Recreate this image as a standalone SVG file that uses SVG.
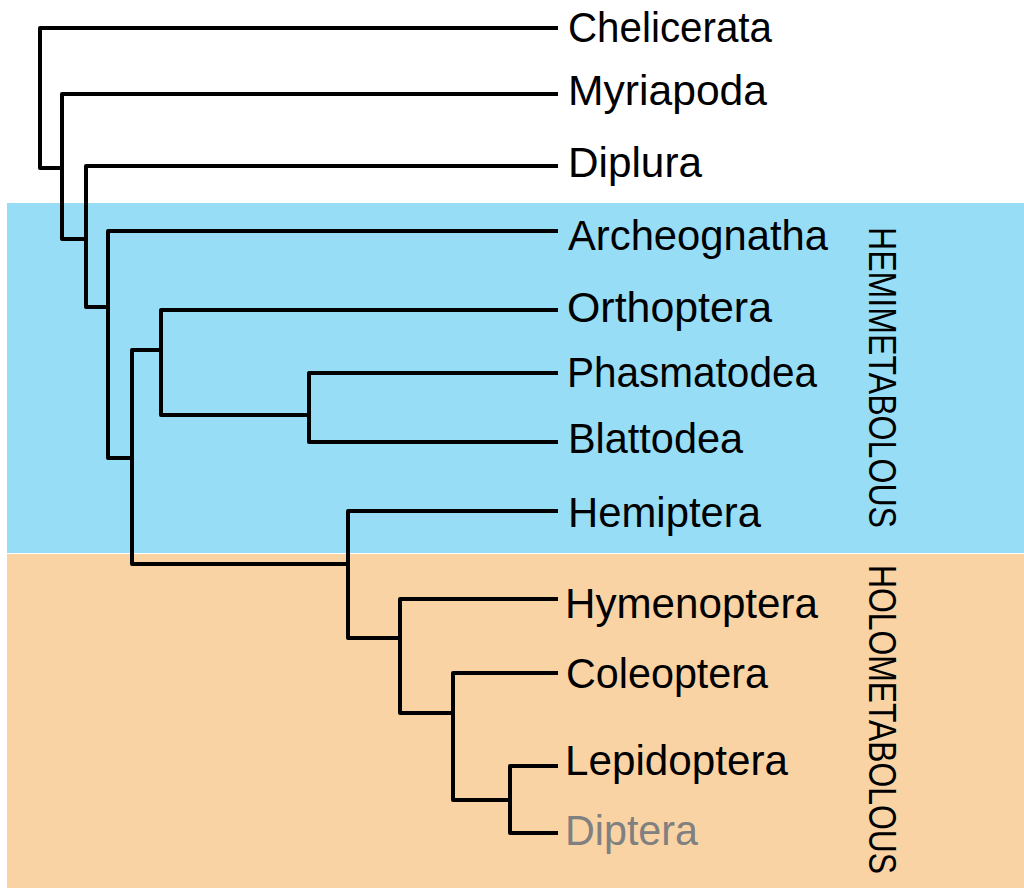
<svg xmlns="http://www.w3.org/2000/svg" width="1024" height="888" viewBox="0 0 1024 888">
<style>
.bg{stroke:none}
.br{fill:none;stroke:#000;stroke-width:4;stroke-linejoin:round;stroke-linecap:butt}
.lbl{font-family:"Liberation Sans",Arial,sans-serif;font-size:42px;fill:#000}
.grp{font-family:"Liberation Sans",Arial,sans-serif;font-size:38px;fill:#000}
</style>
<rect width="1024" height="888" fill="#ffffff"/>
<rect class="bg" x="7" y="203" width="1017" height="350" fill="#97ddf6"/>
<rect class="bg" x="7" y="554" width="1017" height="334" fill="#fad3a5"/>
<g id="connectors">
<path class="br" d="M558,28 H40 V168 H60"/>
<path class="br" d="M558,94 H62 V239 H84"/>
<path class="br" d="M558,166 H86 V307 H106"/>
<path class="br" d="M558,231 H108 V458 H130"/>
<path class="br" d="M346,564 H132 V350 H159"/>
<path class="br" d="M558,310 H161 V415 H307"/>
<path class="br" d="M558,373 H309 V442 H558"/>
<path class="br" d="M558,511 H348 V638 H398"/>
<path class="br" d="M558,599 H400 V713 H451"/>
<path class="br" d="M558,673 H453 V800 H508"/>
<path class="br" d="M558,766 H510 V833 H558"/>
</g>
<g id="chelicerata"><text class="lbl" x="568" y="42" textLength="204" lengthAdjust="spacingAndGlyphs">Chelicerata</text></g>
<g id="myriapoda"><text class="lbl" x="568" y="105" textLength="199" lengthAdjust="spacingAndGlyphs">Myriapoda</text></g>
<g id="diplura"><text class="lbl" x="568" y="177" textLength="134" lengthAdjust="spacingAndGlyphs">Diplura</text></g>
<g id="archeognatha"><text class="lbl" x="568" y="250" textLength="260" lengthAdjust="spacingAndGlyphs">Archeognatha</text></g>
<g id="orthoptera"><text class="lbl" x="567" y="322" textLength="205" lengthAdjust="spacingAndGlyphs">Orthoptera</text></g>
<g id="phasmatodea"><text class="lbl" x="567" y="387" textLength="250" lengthAdjust="spacingAndGlyphs">Phasmatodea</text></g>
<g id="blattodea"><text class="lbl" x="568" y="453" textLength="175" lengthAdjust="spacingAndGlyphs">Blattodea</text></g>
<g id="hemiptera"><text class="lbl" x="568" y="527" textLength="193" lengthAdjust="spacingAndGlyphs">Hemiptera</text></g>
<g id="hymenoptera"><text class="lbl" x="565" y="618" textLength="253" lengthAdjust="spacingAndGlyphs">Hymenoptera</text></g>
<g id="coleoptera"><text class="lbl" x="566" y="688" textLength="202" lengthAdjust="spacingAndGlyphs">Coleoptera</text></g>
<g id="lepidoptera"><text class="lbl" x="565" y="775" textLength="223" lengthAdjust="spacingAndGlyphs">Lepidoptera</text></g>
<g id="diptera"><text class="lbl" x="565" y="845" textLength="133" lengthAdjust="spacingAndGlyphs" fill="#808080" style="fill:#808080">Diptera</text></g>
<g id="hemimetabolous"><text class="grp" transform="translate(869,227) rotate(90)" x="0" y="0" textLength="301" lengthAdjust="spacingAndGlyphs">HEMIMETABOLOUS</text></g>
<g id="holometabolous"><text class="grp" transform="translate(869,565) rotate(90)" x="0" y="0" textLength="309" lengthAdjust="spacingAndGlyphs">HOLOMETABOLOUS</text></g>
</svg>
